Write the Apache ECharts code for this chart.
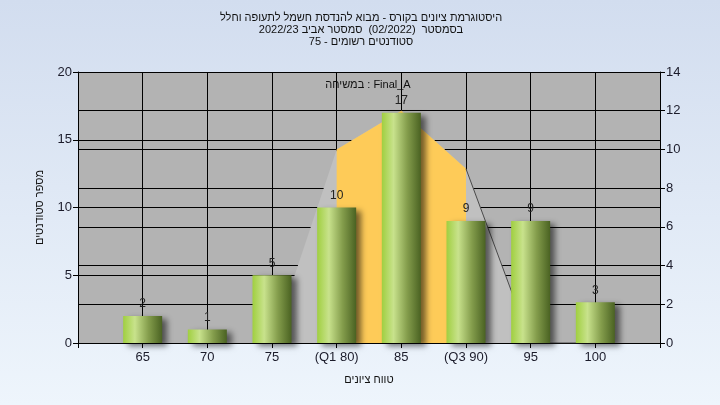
<!DOCTYPE html>
<html>
<head>
<meta charset="utf-8">
<script src="https://cdn.jsdelivr.net/npm/echarts@6/dist/echarts.min.js"></script>
<style>
html,body{margin:0;padding:0;}
#c{width:720px;height:405px;background:linear-gradient(to bottom,#d2ddef 0%,#eef5fc 100%);}
</style>
</head>
<body>
<div id="c"></div>
<script>
// ---- data ----
var categories = ['65', '70', '75', '(Q1 80)', '85', '(Q3 90)', '95', '100'];
var counts = [2, 1, 5, 10, 17, 9, 9, 3];
// distribution curve (right axis)
var curveValues = [null, null, 0, 10, 12, 9, 0, null];
// highlighted Q1..Q3 part of the curve (right axis)
var quartileValues = [null, null, null, 10, 12, 9, null, null];
// dark outline segment
var curveLine = [null, null, null, null, null, 9, 0, 0];
var titleLines = [
  'היסטוגרמת ציונים בקורס - מבוא להנדסת חשמל לתעופה וחלל',
  'בסמסטר  (02/2022)  סמסטר אביב 2022/23',
  'סטודנטים רשומים - 75'
];
var annotation = 'במשיחה : Final_A';
var yName = 'מספר סטודנטים';
var xName = 'טווח ציונים';

// pad with an empty slot each side
function pad(a, v) { return [v].concat(a, [v]); }
var cats = pad(categories, '');
var FONT = 'Liberation Sans, DejaVu Sans, sans-serif';
var TXT = '#1b1b2a';

var chart = echarts.init(document.getElementById('c'), null, {renderer: 'canvas'});
chart.setOption({
  animation: false,
  backgroundColor: 'transparent',
  textStyle: {fontFamily: FONT},
  grid: {left: 78, right: 60, top: 72, bottom: 62, show: true, backgroundColor: '#b3b3b3', borderWidth: 0},
  graphic: [
    {type: 'text', x: 361, y: 18, style: {text: titleLines[0], fill: '#111', font: '11px ' + FONT, textAlign: 'center', textVerticalAlign: 'middle'}},
    {type: 'text', x: 361, y: 30, style: {text: titleLines[1], fill: '#111', font: '11px ' + FONT, textAlign: 'center', textVerticalAlign: 'middle'}},
    {type: 'text', x: 361, y: 42, style: {text: titleLines[2], fill: '#111', font: '11px ' + FONT, textAlign: 'center', textVerticalAlign: 'middle'}},
    {type: 'text', x: 368, y: 85, z: 100, style: {text: annotation, fill: '#111', font: '11px ' + FONT, textAlign: 'center', textVerticalAlign: 'middle'}}
  ],
  xAxis: {
    type: 'category', data: cats, boundaryGap: false,
    name: xName, nameLocation: 'middle', nameGap: 31,
    nameTextStyle: {color: '#111', fontSize: 11, fontFamily: FONT},
    axisLine: {lineStyle: {color: '#000', width: 1}},
    axisTick: {show: true, length: 5, lineStyle: {color: '#000'}},
    axisLabel: {color: TXT, fontSize: 13, margin: 8, fontFamily: FONT},
    splitLine: {show: true, lineStyle: {color: '#000', width: 1}}
  },
  yAxis: [
    {
      type: 'value', min: 0, max: 20, interval: 5, position: 'left',
      name: yName, nameLocation: 'middle', nameGap: 33, nameRotate: 90,
      nameTextStyle: {color: '#111', fontSize: 11, fontFamily: FONT},
      axisLine: {show: true, lineStyle: {color: '#000'}},
      axisTick: {show: true, length: 5, lineStyle: {color: '#000'}},
      axisLabel: {color: TXT, fontSize: 13, margin: 6, fontFamily: FONT},
      splitLine: {show: true, lineStyle: {color: '#000', width: 1}}
    },
    {
      type: 'value', min: 0, max: 14, interval: 2, position: 'right',
      axisLine: {show: true, lineStyle: {color: '#000'}},
      axisTick: {show: true, length: 5, lineStyle: {color: '#000'}},
      axisLabel: {color: TXT, fontSize: 13, margin: 6, fontFamily: FONT},
      splitLine: {show: true, lineStyle: {color: '#000', width: 1}}
    }
  ],
  series: [
    {
      type: 'line', yAxisIndex: 1, data: pad(curveValues, null), connectNulls: false,
      symbol: 'none', lineStyle: {width: 0, opacity: 0},
      areaStyle: {color: '#c0c0c0', opacity: 1}, z: 2, silent: true
    },
    {
      type: 'line', yAxisIndex: 1, data: pad(quartileValues, null),
      symbol: 'none', lineStyle: {width: 0, opacity: 0},
      areaStyle: {color: '#fecb58', opacity: 1}, z: 3, silent: true
    },
    {
      type: 'line', yAxisIndex: 1, data: pad(curveLine, null),
      symbol: 'none', lineStyle: {width: 1, color: '#4a4a4a'}, z: 4, silent: true
    },
    {
      type: 'bar', yAxisIndex: 0, data: pad(counts, '-'), barWidth: 39, z: 5,
      itemStyle: {
        color: new echarts.graphic.LinearGradient(0, 0, 1, 0, [
          {offset: 0, color: '#a0cf40'},
          {offset: 0.3, color: '#c8e28c'},
          {offset: 0.65, color: '#849d4c'},
          {offset: 1, color: '#4a6222'}
        ]),
        shadowColor: 'rgba(0,0,0,0.55)', shadowBlur: 6, shadowOffsetX: 5, shadowOffsetY: 3
      },
      label: {show: true, position: 'top', distance: 6, color: '#222', fontSize: 12, fontFamily: FONT}
    }
  ]
});
</script>
</body>
</html>
